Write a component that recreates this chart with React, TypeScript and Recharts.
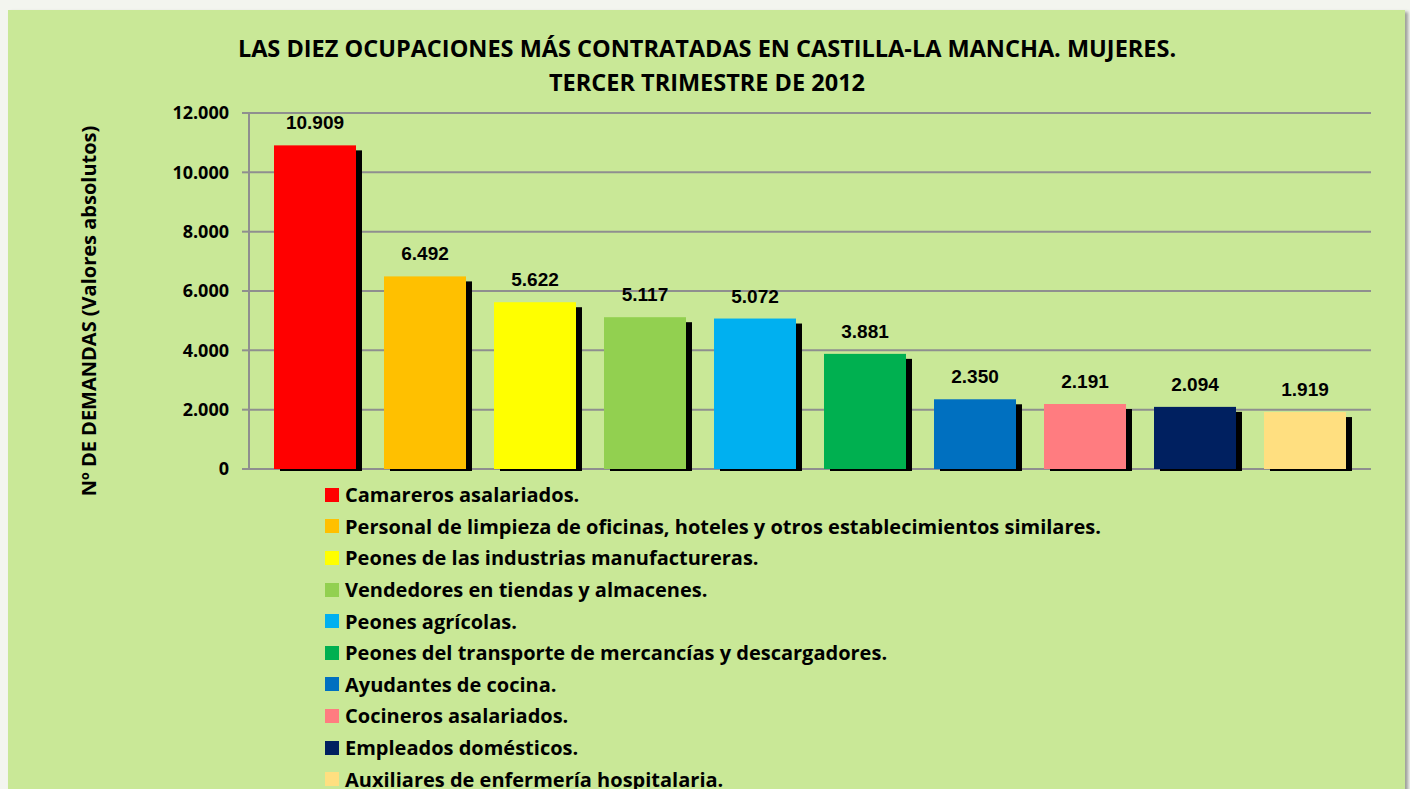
import { BarChart, Bar, XAxis, YAxis, CartesianGrid, Cell, LabelList } from 'recharts';

const categories = [
  'Camareros asalariados.',
  'Personal de limpieza de oficinas, hoteles y otros establecimientos similares.',
  'Peones de las industrias manufactureras.',
  'Vendedores en tiendas y almacenes.',
  'Peones agrícolas.',
  'Peones del transporte de mercancías y descargadores.',
  'Ayudantes de cocina.',
  'Cocineros asalariados.',
  'Empleados domésticos.',
  'Auxiliares de enfermería hospitalaria.',
];
const demandas = [10909, 6492, 5622, 5117, 5072, 3881, 2350, 2191, 2094, 1919];
const yTicks = [0, 2000, 4000, 6000, 8000, 10000, 12000];
const colors = ['#ff0000', '#ffc000', '#ffff00', '#92d050', '#00b0f0', '#00b050', '#0070c0', '#ff7c80', '#002060', '#ffdf80'];

const data = categories.map((name, i) => ({ name, value: demandas[i] }));

const FONT = '"Open Sans", Lato, sans-serif';

// 12000 -> "12.000"
const fmt = (v: number) => String(v).replace(/\B(?=(\d{3})+(?!\d))/g, '.');

function ShadowBar(props: any) {
  const { x, y, width, height, index } = props;
  if (!height) return null;
  return (
    <g>
      <rect x={x + 6} y={y + 5} width={width} height={Math.max(0, height - 3)} fill="#000" />
      <rect x={x} y={y} width={width} height={height} fill={colors[index]} />
    </g>
  );
}

function LegendList() {
  return (
    <div style={{ fontFamily: FONT, fontWeight: 700, fontSize: 20, color: '#000' }}>
      {categories.map((c, i) => (
        <div key={c} style={{ display: 'flex', alignItems: 'center', height: 31.6 }}>
          <span style={{ width: 14, height: 14, background: colors[i], marginRight: 6, flex: 'none' }} />
          <span>{c}</span>
        </div>
      ))}
    </div>
  );
}

export default function App() {
  return (
    <div style={{ position: 'relative', width: 1410, height: 789, background: '#f3f5ef', overflow: 'hidden' }}>
      <style>{'body{margin:0;background:#f3f5ef}'}</style>
      <div
        style={{
          position: 'absolute',
          left: 8,
          top: 10,
          width: 1397,
          height: 800,
          background: '#c9e897',
          boxShadow: '3px 2px 3px rgba(0,0,0,0.35)',
        }}
      />
      <div
        style={{
          position: 'absolute',
          left: 0,
          top: 31,
          width: 1414,
          textAlign: 'center',
          fontFamily: FONT,
          fontWeight: 700,
          fontSize: 23.5,
          lineHeight: '34px',
          color: '#000',
        }}
      >
        LAS DIEZ OCUPACIONES MÁS CONTRATADAS EN CASTILLA-LA MANCHA. MUJERES.
        <br />
        TERCER TRIMESTRE DE 2012
      </div>
      <div
        style={{
          position: 'absolute',
          left: 88,
          top: 311,
          transform: 'translate(-50%, -50%) rotate(-90deg)',
          whiteSpace: 'nowrap',
          fontFamily: FONT,
          fontWeight: 700,
          fontSize: 20,
          color: '#000',
        }}
      >
        Nº DE DEMANDAS (Valores absolutos)
      </div>
      <div style={{ position: 'absolute', left: 0, top: 0 }}>
        <BarChart
          width={1410}
          height={789}
          data={data}
          margin={{ top: 113, right: 39, left: 169, bottom: 320 }}
          barCategoryGap={14}
        >
          <CartesianGrid vertical={false} stroke="#8f8f8f" strokeWidth={2} />
          <XAxis dataKey="name" hide padding={{ left: 11, right: 11 }} />
          <YAxis
            width={80}
            domain={[0, 12000]}
            ticks={yTicks}
            interval={0}
            tickFormatter={fmt}
            axisLine={{ stroke: '#8f8f8f', strokeWidth: 2 }}
            tickLine={{ stroke: '#8f8f8f', strokeWidth: 2 }}
            tickSize={7}
            tickMargin={13}
            tick={{ fontFamily: FONT, fontWeight: 700, fontSize: 18, fill: '#000' }}
          />
          <Bar dataKey="value" shape={<ShadowBar />} isAnimationActive={false}>
            {data.map((d, i) => (
              <Cell key={d.name} fill={colors[i]} />
            ))}
            <LabelList
              dataKey="value"
              position="top"
              offset={16}
              formatter={(v: any) => fmt(Number(v))}
              style={{ fontFamily: '"Liberation Sans", Arial, sans-serif', fontWeight: 700, fontSize: 19, fill: '#000' }}
            />
          </Bar>
        </BarChart>
      </div>
      <div style={{ position: 'absolute', left: 325, top: 479 }}>
        <LegendList />
      </div>
    </div>
  );
}
